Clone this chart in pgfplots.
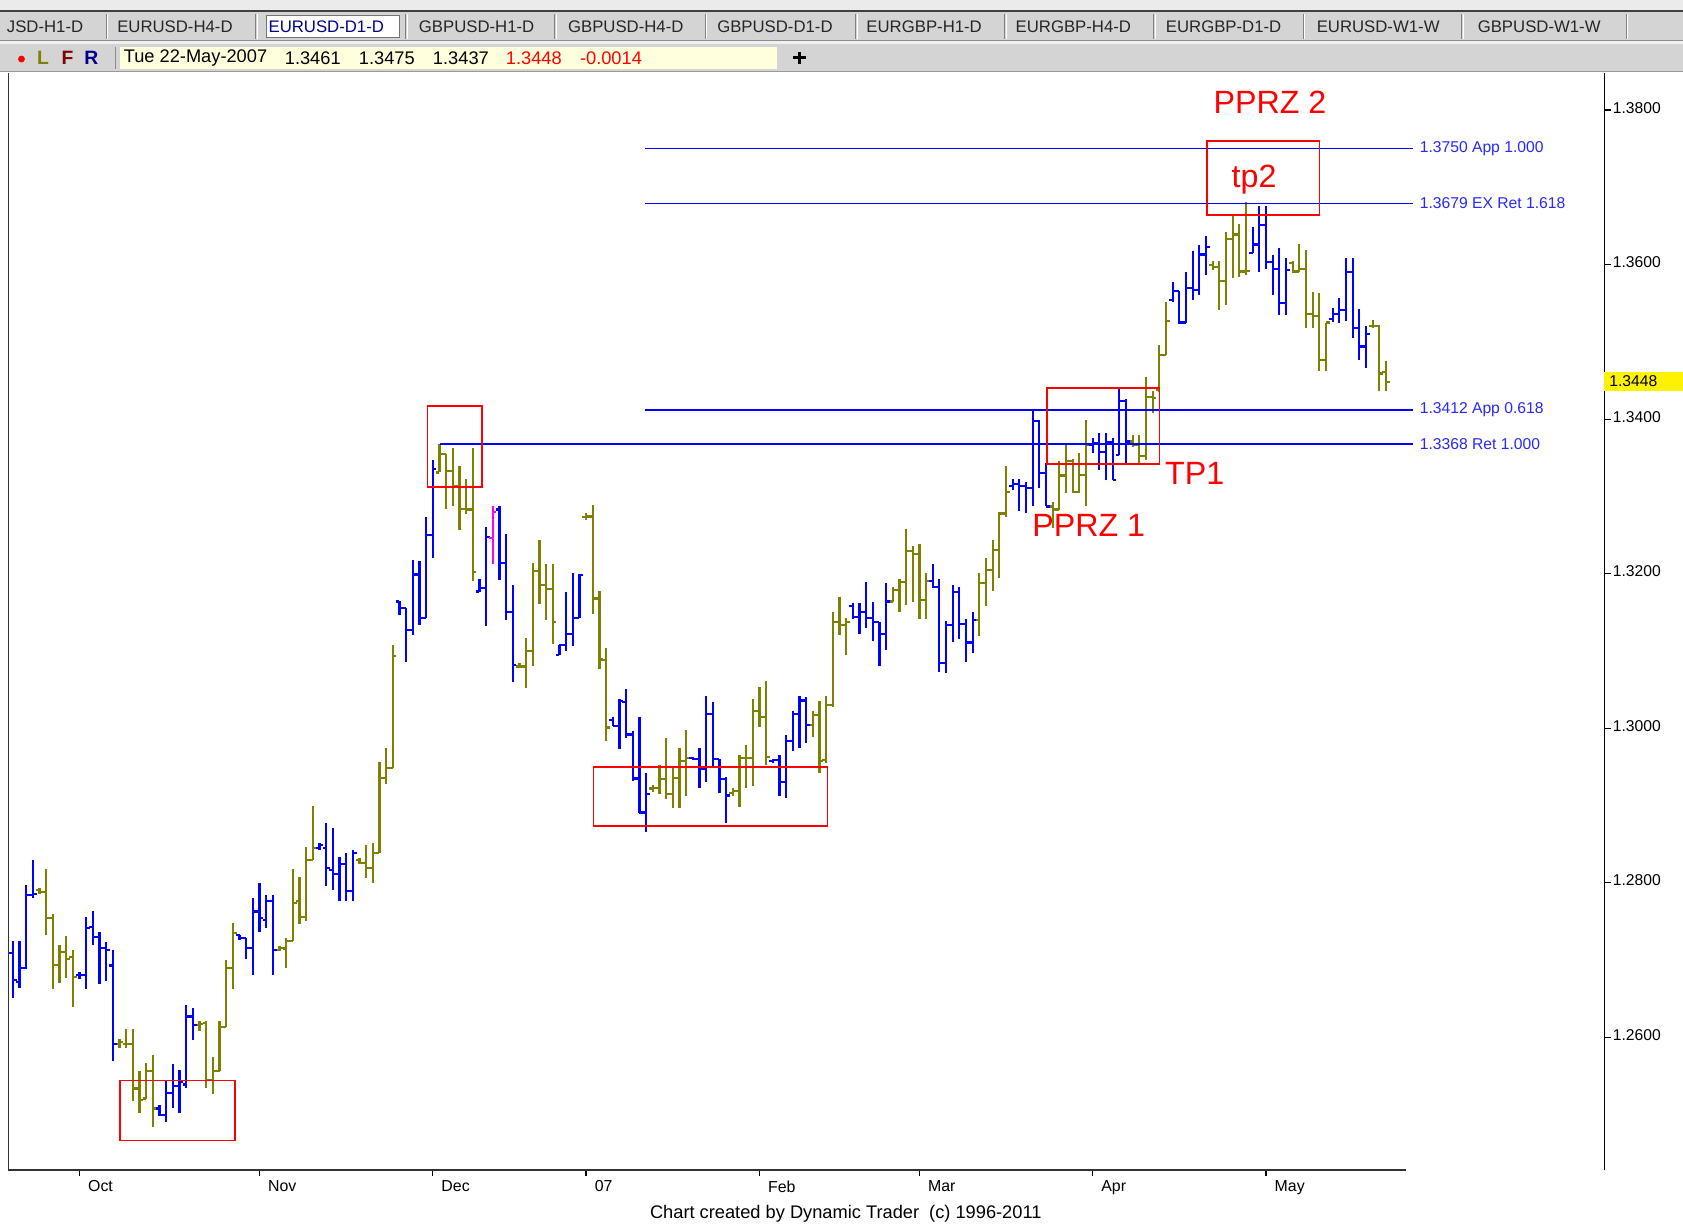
\documentclass[border=0pt]{standalone}
\usepackage{pgfplots}
\pgfplotsset{compat=1.18}
\usepackage{pgfplotstable}
\usepackage{fontspec}
\setmainfont{Liberation Sans}

\definecolor{barolive}{RGB}{128,128,0}
\definecolor{barblue}{RGB}{0,0,255}
\definecolor{barmag}{RGB}{255,0,255}
\definecolor{lvltext}{RGB}{40,40,255}
\definecolor{panel}{RGB}{212,212,212}
\definecolor{infoyellow}{RGB}{255,255,222}
\definecolor{navytxt}{RGB}{0,0,140}
\newcommand{\fs}[1]{\fontsize{#1}{#1}\selectfont}

% daily bars: index, open, high, low, close, colour (0 olive, 1 blue, 2 magenta)
\pgfplotstableread{
i O H L C c
0 1.2709 1.2725 1.2651 1.2674 1
1 1.2672 1.2725 1.2664 1.2690 1
2 1.2690 1.2797 1.2689 1.2784 1
3 1.2784 1.2829 1.2780 1.2786 1
4 1.2791 1.2793 1.2786 1.2788 0
5 1.2788 1.2818 1.2732 1.2754 0
6 1.2754 1.2760 1.2663 1.2694 0
7 1.2694 1.2719 1.2671 1.2711 0
8 1.2711 1.2731 1.2677 1.2702 0
9 1.2704 1.2713 1.2640 1.2678 0
10 1.2681 1.2685 1.2676 1.2681 1
11 1.2681 1.2756 1.2663 1.2742 1
12 1.2743 1.2763 1.2719 1.2730 1
13 1.2730 1.2737 1.2669 1.2716 1
14 1.2716 1.2724 1.2673 1.2713 1
15 1.2693 1.2713 1.2569 1.2591 1
16 1.2591 1.2598 1.2586 1.2594 0
17 1.2592 1.2611 1.2586 1.2592 0
18 1.2591 1.2611 1.2518 1.2534 0
19 1.2534 1.2557 1.2502 1.2519 0
20 1.2521 1.2567 1.2520 1.2556 0
21 1.2556 1.2577 1.2484 1.2508 0
22 1.2508 1.2512 1.2498 1.2500 1
23 1.2500 1.2543 1.2491 1.2528 1
24 1.2528 1.2565 1.2509 1.2537 1
25 1.2537 1.2558 1.2502 1.2543 1
26 1.2539 1.2642 1.2534 1.2627 1
27 1.2627 1.2638 1.2597 1.2616 1
28 1.2616 1.2621 1.2608 1.2617 0
29 1.2619 1.2621 1.2535 1.2545 0
30 1.2545 1.2575 1.2527 1.2557 0
31 1.2557 1.2621 1.2556 1.2614 0
32 1.2614 1.2700 1.2614 1.2690 0
33 1.2690 1.2748 1.2663 1.2735 0
34 1.2733 1.2733 1.2726 1.2729 1
35 1.2729 1.2729 1.2701 1.2716 1
36 1.2716 1.2781 1.2681 1.2763 1
37 1.2763 1.2800 1.2737 1.2754 1
38 1.2752 1.2784 1.2741 1.2777 1
39 1.2777 1.2784 1.2681 1.2713 1
40 1.2713 1.2718 1.2712 1.2716 0
41 1.2715 1.2729 1.2690 1.2725 0
42 1.2725 1.2818 1.2725 1.2774 0
43 1.2776 1.2807 1.2747 1.2756 0
44 1.2756 1.2846 1.2750 1.2830 0
45 1.2830 1.2899 1.2830 1.2845 0
46 1.2845 1.2852 1.2843 1.2849 1
47 1.2845 1.2877 1.2796 1.2819 1
48 1.2817 1.2871 1.2791 1.2811 1
49 1.2811 1.2834 1.2776 1.2824 1
50 1.2824 1.2839 1.2776 1.2790 1
51 1.2790 1.2842 1.2776 1.2839 1
52 1.2830 1.2832 1.2824 1.2826 0
53 1.2826 1.2849 1.2806 1.2819 0
54 1.2819 1.2852 1.2800 1.2839 0
55 1.2839 1.2957 1.2839 1.2936 0
56 1.2936 1.2974 1.2928 1.2949 0
57 1.2949 1.3108 1.2949 1.3093 0
58 1.3164 1.3165 1.3146 1.3156 1
59 1.3156 1.3156 1.3086 1.3127 1
60 1.3127 1.3218 1.3121 1.3199 1
61 1.3199 1.3216 1.3134 1.3143 1
62 1.3143 1.3273 1.3143 1.3250 1
63 1.3250 1.3347 1.3220 1.3336 1
64 1.3331 1.3368 1.3331 1.3355 0
65 1.3355 1.3355 1.3284 1.3333 0
66 1.3333 1.3363 1.3287 1.3314 0
67 1.3314 1.3339 1.3256 1.3284 0
68 1.3284 1.3323 1.3277 1.3283 0
69 1.3283 1.3363 1.3190 1.3202 0
70 1.3177 1.3193 1.3176 1.3182 1
71 1.3182 1.3261 1.3132 1.3248 1
72 1.3246 1.3288 1.3212 1.3280 2
73 1.3283 1.3287 1.3192 1.3214 1
74 1.3214 1.3252 1.3140 1.3151 1
75 1.3151 1.3186 1.3060 1.3082 1
76 1.3080 1.3084 1.3078 1.3080 0
77 1.3080 1.3117 1.3052 1.3100 0
78 1.3100 1.3214 1.3081 1.3204 0
79 1.3204 1.3244 1.3161 1.3185 0
80 1.3185 1.3212 1.3140 1.3180 0
81 1.3180 1.3213 1.3109 1.3137 0
82 1.3095 1.3108 1.3095 1.3108 1
83 1.3108 1.3176 1.3100 1.3122 1
84 1.3122 1.3201 1.3106 1.3143 1
85 1.3143 1.3199 1.3143 1.3198 1
86 1.3273 1.3278 1.3270 1.3274 0
87 1.3274 1.3289 1.3148 1.3168 0
88 1.3168 1.3177 1.3077 1.3089 0
89 1.3088 1.3104 1.2983 1.3001 0
90 1.3011 1.3014 1.3003 1.3003 1
91 1.3003 1.3038 1.2973 1.3035 1
92 1.3034 1.3051 1.2987 1.2992 1
93 1.2992 1.2997 1.2932 1.2935 1
94 1.2935 1.3014 1.2890 1.2891 1
95 1.2891 1.2942 1.2866 1.2915 1
96 1.2922 1.2926 1.2917 1.2923 0
97 1.2923 1.2953 1.2915 1.2934 0
98 1.2934 1.2987 1.2909 1.2915 0
99 1.2915 1.2948 1.2897 1.2936 0
100 1.2936 1.2975 1.2897 1.2958 0
101 1.2958 1.2998 1.2913 1.2961 0
102 1.2962 1.2963 1.2959 1.2960 1
103 1.2960 1.2975 1.2923 1.2947 1
104 1.2947 1.3042 1.2930 1.3019 1
105 1.3019 1.3034 1.2948 1.2960 1
106 1.2960 1.2960 1.2916 1.2934 1
107 1.2934 1.2937 1.2877 1.2913 1
108 1.2916 1.2923 1.2912 1.2919 0
109 1.2919 1.2965 1.2898 1.2961 0
110 1.2961 1.2978 1.2923 1.2962 0
111 1.2962 1.3038 1.2925 1.3022 0
112 1.3022 1.3053 1.3002 1.3015 0
113 1.3015 1.3061 1.2953 1.2963 0
114 1.2958 1.2960 1.2955 1.2959 1
115 1.2959 1.2966 1.2913 1.2930 1
116 1.2930 1.2991 1.2910 1.2983 1
117 1.2983 1.3022 1.2970 1.3018 1
118 1.3018 1.3042 1.2974 1.3036 1
119 1.3036 1.3041 1.2981 1.3004 1
120 1.3004 1.3022 1.2989 1.3017 0
121 1.3017 1.3035 1.2942 1.2958 0
122 1.2959 1.3042 1.2955 1.3030 0
123 1.3030 1.3151 1.3028 1.3138 0
124 1.3138 1.3170 1.3121 1.3134 0
125 1.3134 1.3143 1.3095 1.3137 0
126 1.3158 1.3162 1.3142 1.3144 1
127 1.3144 1.3162 1.3122 1.3150 1
128 1.3150 1.3189 1.3130 1.3143 1
129 1.3143 1.3164 1.3113 1.3138 1
130 1.3138 1.3138 1.3081 1.3122 1
131 1.3122 1.3188 1.3101 1.3164 1
132 1.3164 1.3183 1.3164 1.3179 0
133 1.3179 1.3193 1.3151 1.3189 0
134 1.3189 1.3258 1.3160 1.3229 0
135 1.3229 1.3236 1.3164 1.3226 0
136 1.3226 1.3239 1.3142 1.3166 0
137 1.3166 1.3201 1.3142 1.3191 0
138 1.3191 1.3212 1.3182 1.3183 1
139 1.3183 1.3193 1.3073 1.3084 1
140 1.3084 1.3139 1.3072 1.3134 1
141 1.3134 1.3185 1.3111 1.3176 1
142 1.3176 1.3183 1.3116 1.3135 1
143 1.3135 1.3142 1.3086 1.3111 1
144 1.3111 1.3150 1.3098 1.3140 1
145 1.3140 1.3201 1.3120 1.3188 0
146 1.3188 1.3220 1.3158 1.3205 0
147 1.3205 1.3244 1.3178 1.3231 0
148 1.3231 1.3280 1.3194 1.3278 0
149 1.3278 1.3339 1.3274 1.3306 0
150 1.3314 1.3323 1.3308 1.3316 1
151 1.3316 1.3323 1.3281 1.3314 1
152 1.3314 1.3319 1.3278 1.3311 1
153 1.3311 1.3411 1.3287 1.3398 1
154 1.3398 1.3399 1.3311 1.3330 1
155 1.3330 1.3343 1.3287 1.3287 1
156 1.3287 1.3293 1.3259 1.3283 0
157 1.3283 1.3346 1.3283 1.3327 0
158 1.3327 1.3367 1.3304 1.3346 0
159 1.3346 1.3349 1.3305 1.3306 0
160 1.3306 1.3356 1.3304 1.3328 0
161 1.3328 1.3399 1.3287 1.3367 0
162 1.3367 1.3375 1.3356 1.3369 1
163 1.3369 1.3382 1.3334 1.3358 1
164 1.3358 1.3382 1.3321 1.3370 1
165 1.3370 1.3375 1.3321 1.3321 1
166 1.3354 1.3440 1.3354 1.3424 1
167 1.3424 1.3426 1.3343 1.3371 1
168 1.3371 1.3380 1.3364 1.3366 0
169 1.3366 1.3379 1.3341 1.3352 0
170 1.3352 1.3454 1.3347 1.3429 0
171 1.3429 1.3436 1.3408 1.3427 0
172 1.3438 1.3496 1.3435 1.3483 0
173 1.3483 1.3551 1.3483 1.3527 0
174 1.3554 1.3578 1.3551 1.3566 1
175 1.3566 1.3566 1.3523 1.3525 1
176 1.3525 1.3591 1.3524 1.3570 1
177 1.3570 1.3617 1.3554 1.3567 1
178 1.3567 1.3625 1.3561 1.3613 1
179 1.3613 1.3637 1.3586 1.3623 1
180 1.3600 1.3605 1.3593 1.3597 0
181 1.3597 1.3604 1.3541 1.3579 0
182 1.3579 1.3642 1.3548 1.3633 0
183 1.3633 1.3663 1.3582 1.3639 0
184 1.3639 1.3653 1.3584 1.3591 0
185 1.3591 1.3681 1.3587 1.3592 0
186 1.3615 1.3648 1.3615 1.3626 1
187 1.3626 1.3676 1.3590 1.3651 1
188 1.3651 1.3676 1.3594 1.3603 1
189 1.3603 1.3612 1.3561 1.3594 1
190 1.3594 1.3622 1.3535 1.3550 1
191 1.3550 1.3609 1.3535 1.3593 1
192 1.3602 1.3604 1.3589 1.3591 0
193 1.3591 1.3626 1.3591 1.3594 0
194 1.3594 1.3619 1.3518 1.3536 0
195 1.3536 1.3565 1.3518 1.3533 0
196 1.3533 1.3563 1.3462 1.3477 0
197 1.3477 1.3525 1.3462 1.3525 0
198 1.3530 1.3544 1.3526 1.3536 1
199 1.3536 1.3557 1.3525 1.3541 1
200 1.3541 1.3608 1.3527 1.3590 1
201 1.3590 1.3608 1.3505 1.3518 1
202 1.3518 1.3543 1.3477 1.3494 1
203 1.3494 1.3520 1.3466 1.3510 1
204 1.3520 1.3528 1.3518 1.3520 0
205 1.3520 1.3522 1.3436 1.3459 0
206 1.3461 1.3475 1.3437 1.3448 0
}\bars

% one colour class of OHLC bars: high-low line, open tick left, close tick right
\pgfplotsset{ohlcbar/.style={draw=none, mark=none, forget plot,
    error bars/error mark=none,
    error bars/error bar style={draw=#1, line width=1pt}}}
\newcommand{\ohlc}[2]{%
  \addplot[ohlcbar=#2, restrict expr to domain={\thisrow{c}}{#1:#1},
    error bars/y dir=plus, error bars/y explicit]
    table[x=i, y=L, y error expr=\thisrow{H}-\thisrow{L}] {\bars};
  \addplot[ohlcbar=#2, restrict expr to domain={\thisrow{c}}{#1:#1},
    error bars/x dir=minus, error bars/x fixed=0.55]
    table[x=i, y=O] {\bars};
  \addplot[ohlcbar=#2, restrict expr to domain={\thisrow{c}}{#1:#1},
    error bars/x dir=plus, error bars/x fixed=0.55]
    table[x=i, y=C] {\bars};
}

\begin{document}
\begin{tikzpicture}
% everything outside the axis is laid out in screen pixels (0.5pt each, y downwards)
\begin{scope}[x=0.5pt,y=-0.5pt]
\useasboundingbox (0,0) rectangle (1568,1141);
\fill[white] (0,0) rectangle (1568,1141);
\fill[black!8] (0,0) rectangle (1568,10);
\draw[black!75, line width=0.9pt] (0,10.5) -- (1568,10.5);
\fill[panel] (0,11) rectangle (1568,38);
\draw[black!45] (0,38) -- (1568,38);
\fill[black!6] (0,38.5) rectangle (1568,41);
\fill[panel] (0,41) rectangle (1568,66);
\draw[black!40] (0,66.5) -- (1568,66.5);
\foreach \sx in {99,238,378,517,657,797,936,1075,1214,1362,1515}
  {\draw[black!50] (\sx,13) -- (\sx,36); \draw[white] (\sx+1.5,13) -- (\sx+1.5,36);}
\fill[white] (248,14) rectangle (372,35);
\draw[black!55] (248,14) rectangle (372,35);
\foreach \tx/\tl in {42/JSD-H1-D,163/EURUSD-H4-D,444/GBPUSD-H1-D,583/GBPUSD-H4-D,
  722/GBPUSD-D1-D,861/EURGBP-H1-D,1000/EURGBP-H4-D,1140/EURGBP-D1-D,
  1284/EURUSD-W1-W,1434/GBPUSD-W1-W}
  \node[font=\fs{7.8}, text=black!85, inner sep=0pt] at (\tx,24.5) {\tl};
\node[font=\fs{7.8}, text=navytxt, inner sep=0pt] at (304,24.5) {EURUSD-D1-D};

\fill[red] (20,55) circle (3.2);
\node[font=\bfseries\fs{9}, text=barolive, inner sep=0pt] at (40,54) {L};
\node[font=\bfseries\fs{9}, text={rgb,255:red,128;green,0;blue,0}, inner sep=0pt] at (63,54) {F};
\node[font=\bfseries\fs{9}, text=navytxt, inner sep=0pt] at (85,54) {R};
\draw[black!45] (108,44) -- (108,64);
\fill[infoyellow] (112,44) rectangle (724,64);
\foreach \ix/\il in {115/Tue 22-May-2007,265/1.3461,334/1.3475,403/1.3437}
  \node[font=\fs{8.5}, anchor=west, inner sep=0pt] at (\ix,54.5) {\il};
\node[font=\fs{8.5}, anchor=west, inner sep=0pt, text=red] at (471,54.5) {1.3448};
\node[font=\fs{8.5}, anchor=west, inner sep=0pt, text=red] at (540,54.5) {-0.0014};
\draw[black, line width=1.4pt] (739,54) -- (751,54) (745,48) -- (745,60);
\end{scope}

\begin{axis}[
  at={(4pt,-545pt)}, anchor=south west,
  scale only axis, width=743.5pt, height=511pt,
  xmin=-0.644, xmax=238.8, ymin=1.24285, ymax=1.38479,
  axis x line*=bottom, axis y line*=right,
  x axis line style={draw=none},
  y axis line style={black, line width=0.7pt},
  tick align=outside, major tick length=3pt,
  tick style={black, line width=0.6pt},
  typeset ticklabels with strut,
  xtick={10,37,63,86,112,136,162,188},
  xticklabels={Oct,Nov,Dec,07,Feb,Mar,Apr,May},
  xticklabel style={anchor=north west, xshift=0.5pt, yshift=1.5pt, font=\fs{7.4}},
  ytick={1.26,1.28,1.30,1.32,1.34,1.36,1.38},
  scaled y ticks=false,
  yticklabel style={anchor=west, inner sep=0.6pt, font=\fs{7.3},
    /pgf/number format/fixed, /pgf/number format/fixed zerofill,
    /pgf/number format/precision=4, /pgf/number format/assume math mode=true},
  clip=false,
]
\ohlc{0}{barolive}
\ohlc{1}{barblue}
\ohlc{2}{barmag}

% projection levels
\addplot[barblue, line width=0.7pt, forget plot] coordinates {(94.9,1.3750) (210,1.3750)};
\addplot[barblue, line width=0.7pt, forget plot] coordinates {(94.9,1.3679) (210,1.3679)};
\addplot[barblue, line width=0.7pt, forget plot] coordinates {(94.9,1.3412) (210,1.3412)};
\addplot[barblue, line width=0.7pt, forget plot] coordinates {(64.1,1.3368) (210,1.3368)};
\node[anchor=west, inner sep=0pt, text=lvltext, font=\fs{7.3}] at (axis cs:211,1.3750) {1.3750 App 1.000};
\node[anchor=west, inner sep=0pt, text=lvltext, font=\fs{7.3}] at (axis cs:211,1.3679) {1.3679 EX Ret 1.618};
\node[anchor=west, inner sep=0pt, text=lvltext, font=\fs{7.3}] at (axis cs:211,1.3412) {1.3412 App 0.618};
\node[anchor=west, inner sep=0pt, text=lvltext, font=\fs{7.3}] at (axis cs:211,1.3368) {1.3368 Ret 1.000};

% zones
\draw[red, line width=0.8pt] (axis cs:16.1,1.25444) rectangle (axis cs:33.3,1.24667);
\draw[red, line width=0.8pt] (axis cs:62.2,1.34167) rectangle (axis cs:70.4,1.33125);
\draw[red, line width=0.8pt] (axis cs:87.1,1.29500) rectangle (axis cs:122.2,1.28736);
\draw[red, line width=0.8pt] (axis cs:155.1,1.34403) rectangle (axis cs:172.0,1.33417);
\draw[red, line width=0.8pt] (axis cs:179.1,1.37597) rectangle (axis cs:196.0,1.36639);
\node[text=red, font=\fs{15}, inner sep=0pt] at (axis cs:188.6,1.38097) {PPRZ 2};
\node[text=red, font=\fs{15}, inner sep=0pt] at (axis cs:186.2,1.37097) {tp2};
\node[text=red, font=\fs{15}, inner sep=0pt] at (axis cs:177.3,1.33292) {TP1};
\node[text=red, font=\fs{15}, inner sep=0pt] at (axis cs:161.4,1.32625) {PPRZ 1};
\end{axis}

\begin{scope}[x=0.5pt,y=-0.5pt]
\draw[black!80, line width=0.7pt] (8,68) -- (8,1090) -- (1310,1090);
\fill[yellow] (1494,347) rectangle (1568,364);
\node[anchor=west, inner sep=0pt, font=\fs{7.3}] at (1499,355.5) {1.3448};
\node[font=\fs{8.5}, inner sep=0pt] at (788,1131) {Chart created by Dynamic Trader\ \ (c) 1996-2011};
\end{scope}
\end{tikzpicture}
\end{document}
